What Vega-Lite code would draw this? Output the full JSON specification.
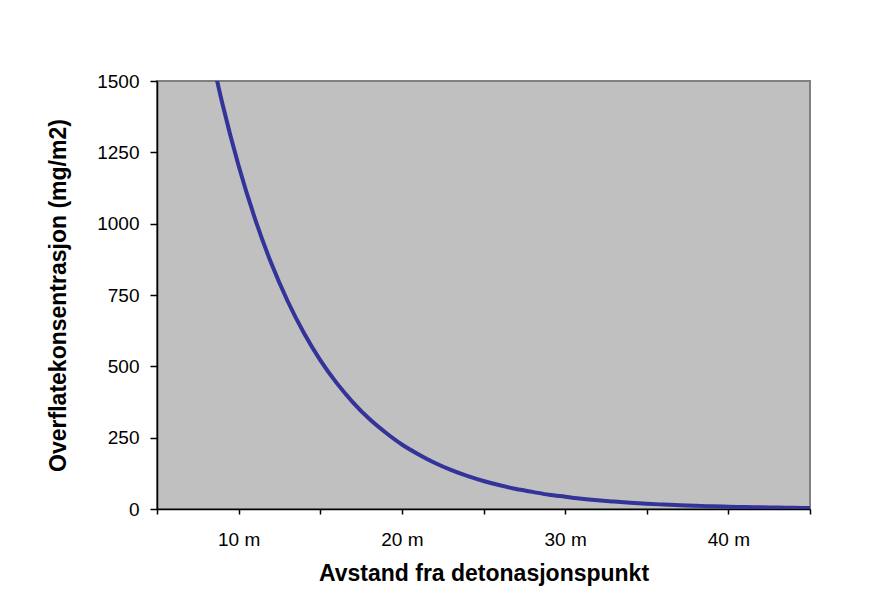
{
  "$schema": "https://vega.github.io/schema/vega-lite/v6.json",
  "width": 653,
  "height": 428,
  "autosize": {"type": "none"},
  "padding": {"left": 157, "top": 81, "right": 64, "bottom": 99},
  "background": "white",
  "config": {
    "font": "Liberation Sans",
    "view": {"fill": "#C0C0C0", "stroke": "#808080", "strokeWidth": 2}
  },
  "data": {
    "values": [
      {"d": 8, "c": 1680},
      {"d": 9, "c": 1422},
      {"d": 10, "c": 1203},
      {"d": 11, "c": 1018},
      {"d": 12, "c": 861},
      {"d": 13, "c": 729},
      {"d": 14, "c": 617},
      {"d": 15, "c": 522},
      {"d": 16, "c": 442},
      {"d": 17, "c": 374},
      {"d": 18, "c": 316},
      {"d": 19, "c": 268},
      {"d": 20, "c": 226},
      {"d": 21, "c": 192},
      {"d": 22, "c": 162},
      {"d": 23, "c": 137},
      {"d": 24, "c": 116},
      {"d": 25, "c": 98},
      {"d": 26, "c": 83},
      {"d": 27, "c": 70},
      {"d": 28, "c": 60},
      {"d": 29, "c": 50},
      {"d": 30, "c": 43},
      {"d": 31, "c": 36},
      {"d": 32, "c": 30.5},
      {"d": 33, "c": 26},
      {"d": 34, "c": 22},
      {"d": 35, "c": 18.5},
      {"d": 36, "c": 15.7},
      {"d": 37, "c": 13.3},
      {"d": 38, "c": 11.2},
      {"d": 39, "c": 9.5},
      {"d": 40, "c": 8},
      {"d": 41, "c": 6.8},
      {"d": 42, "c": 5.8},
      {"d": 43, "c": 4.9},
      {"d": 44, "c": 4.1},
      {"d": 45, "c": 3.5}
    ]
  },
  "mark": {"type": "line", "color": "#333399", "strokeWidth": 4, "clip": true, "interpolate": "monotone"},
  "encoding": {
    "x": {
      "field": "d",
      "type": "quantitative",
      "scale": {"domain": [5, 45], "nice": false, "zero": false},
      "axis": {
        "title": "Avstand fra detonasjonspunkt",
        "values": [5, 10, 15, 20, 25, 30, 35, 40, 45],
        "labelExpr": "datum.value % 10 === 0 ? datum.value + ' m' : ''",
        "grid": false,
        "domainColor": "black",
        "domainWidth": 1.5,
        "tickColor": "black",
        "tickSize": 5,
        "tickWidth": 1.5,
        "labelFontSize": 19,
        "labelColor": "black",
        "labelPadding": 16,
        "labelOverlap": false,
        "labelFlush": false,
        "titleFontSize": 23,
        "titleFontWeight": "bold",
        "titleColor": "black",
        "titlePadding": 13
      }
    },
    "y": {
      "field": "c",
      "type": "quantitative",
      "scale": {"domain": [0, 1500], "nice": false},
      "axis": {
        "title": "Overflatekonsentrasjon (mg/m2)",
        "values": [0, 250, 500, 750, 1000, 1250, 1500],
        "format": "d",
        "grid": false,
        "domainColor": "black",
        "domainWidth": 1.5,
        "tickColor": "black",
        "tickSize": 7,
        "tickWidth": 1.5,
        "labelFontSize": 19,
        "labelColor": "black",
        "labelPadding": 11,
        "labelOverlap": false,
        "labelFlush": false,
        "titleFontSize": 23,
        "titleFontWeight": "bold",
        "titleColor": "black",
        "titlePadding": 26
      }
    }
  }
}
